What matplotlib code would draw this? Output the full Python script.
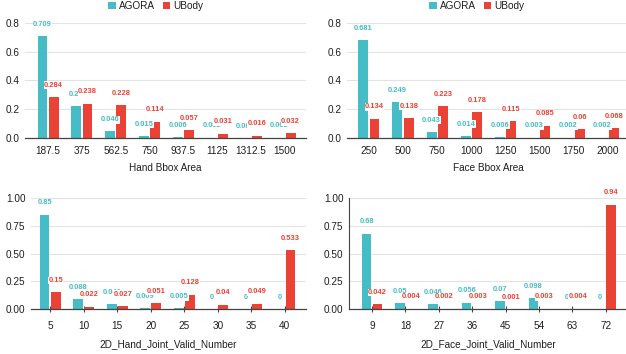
import matplotlib.pyplot as plt
import numpy as np

plt.rcParams['font.family'] = ['Liberation Sans', 'DejaVu Sans']

TEAL = '#46bdc6'
RED = '#ea4335'
TXT = '#1e1e1e'

hand_area = ['187.5', '375', '562.5', '750', '937.5', '1125', '1312.5', '1500']
hand_area_agora = [0.709, 0.22, 0.046, 0.015, 0.006, 0.002, 0.001, 0.002]
hand_area_ubody = [0.284, 0.238, 0.228, 0.114, 0.057, 0.031, 0.016, 0.032]

face_area = ['250', '500', '750', '1000', '1250', '1500', '1750', '2000']
face_area_agora = [0.681, 0.249, 0.043, 0.014, 0.006, 0.003, 0.002, 0.002]
face_area_ubody = [0.134, 0.138, 0.223, 0.178, 0.115, 0.085, 0.06, 0.068]

hand_joint = ['5', '10', '15', '20', '25', '30', '35', '40']
hand_joint_agora = [0.85, 0.088, 0.046, 0.009, 0.005, 0, 0, 0]
hand_joint_ubody = [0.15, 0.022, 0.027, 0.051, 0.128, 0.04, 0.049, 0.533]

face_joint = ['9', '18', '27', '36', '45', '54', '63', '72']
face_joint_agora = [0.68, 0.05, 0.046, 0.056, 0.07, 0.098, 0, 0]
face_joint_ubody = [0.042, 0.004, 0.002, 0.003, 0.001, 0.003, 0.004, 0.94]


def draw(ax, cats, agora, ubody, xlabel, xlim, ylim, yticks, yfmt, bottom_row):
    x = np.arange(len(cats))
    w = 0.29
    b1 = ax.bar(x - 0.165, agora, w, color=TEAL, label='AGORA', zorder=2)
    b2 = ax.bar(x + 0.165, ubody, w, color=RED, label='UBody', zorder=2)
    for bars, vals, c in [(b1, agora, TEAL), (b2, ubody, RED)]:
        for r, v in zip(bars, vals):
            ax.annotate(f'{v:g}', (r.get_x() + r.get_width() / 2, v),
                        xytext=(0, 8.5), textcoords='offset points',
                        ha='center', va='center', fontsize=5.4, color=c,
                        fontweight='bold', annotation_clip=False, zorder=5,
                        bbox=dict(fc='white', ec='none', pad=0.3))
    ax.set_xlim(*xlim)
    ax.set_ylim(*ylim)
    ax.set_yticks(yticks)
    ax.set_yticklabels([yfmt.format(t) for t in yticks])
    ax.set_xticks(x, cats)
    ax.grid(axis='y', color='#e3e3e3', lw=0.8, zorder=0)
    ax.set_axisbelow(True)
    for s in ['top', 'right', 'left']:
        ax.spines[s].set_visible(False)
    ax.spines['bottom'].set_color('#444444')
    ax.spines['bottom'].set_linewidth(0.9)
    ax.tick_params(axis='y', length=0, pad=4, labelsize=7.2, labelcolor=TXT)
    if bottom_row:
        ax.tick_params(axis='x', length=5, direction='inout', color='#444444',
                       pad=6, labelsize=7.2, labelcolor=TXT)
        ax.set_xlabel(xlabel, fontsize=7.2, color=TXT, labelpad=6)
    else:
        ax.tick_params(axis='x', length=0, pad=6, labelsize=7.2, labelcolor=TXT)
        ax.set_xlabel(xlabel, fontsize=7.2, color=TXT, labelpad=5)


fig = plt.figure(figsize=(6.26, 3.54), dpi=100)
W, H = 626, 354


def add_ax(left, right, ybot, ytop):
    return fig.add_axes([left / W, (H - ybot) / H, (right - left) / W, (ybot - ytop) / H])


ax1 = add_ax(25, 306, 138, 23)
ax2 = add_ax(347, 630, 138, 23)
ax3 = add_ax(31, 306, 309, 198)
ax4 = add_ax(349, 627, 309, 198)

draw(ax1, hand_area, hand_area_agora, hand_area_ubody, 'Hand Bbox Area',
     (-0.68, 7.62), (0, 0.8), [0, 0.2, 0.4, 0.6, 0.8], '{:.1f}', False)
draw(ax2, face_area, face_area_agora, face_area_ubody, 'Face Bbox Area',
     (-0.64, 7.64), (0, 0.8), [0, 0.2, 0.4, 0.6, 0.8], '{:.1f}', False)
draw(ax3, hand_joint, hand_joint_agora, hand_joint_ubody, '2D_Hand_Joint_Valid_Number',
     (-0.57, 7.63), (0, 1.0), [0, 0.25, 0.5, 0.75, 1.0], '{:.2f}', True)
draw(ax4, face_joint, face_joint_agora, face_joint_ubody, '2D_Face_Joint_Valid_Number',
     (-0.69, 7.64), (0, 1.0), [0, 0.25, 0.5, 0.75, 1.0], '{:.2f}', True)
ax4.spines['left'].set_visible(True)
ax4.spines['left'].set_color('#444444')
ax4.spines['left'].set_linewidth(0.8)

for ax, cx in [(ax1, 156), (ax2, 477)]:
    ax.legend(loc='center', bbox_to_anchor=(cx / W, 1 - 6 / H),
              bbox_transform=fig.transFigure, ncol=2, frameon=False,
              fontsize=7.2, handlelength=0.72, handleheight=0.72,
              handletextpad=0.35, columnspacing=0.8, labelcolor=TXT,
              borderpad=0.1)

fig.savefig('out.png', dpi=100)
